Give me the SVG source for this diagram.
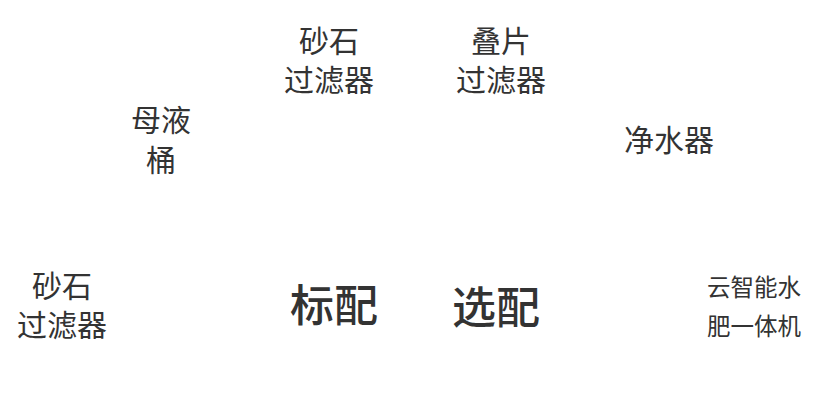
<svg xmlns="http://www.w3.org/2000/svg" width="818" height="400" viewBox="0 0 818 400">
<style>
text{font-family:"Noto Sans CJK SC","Noto Sans",sans-serif;fill:#333;text-anchor:middle;dominant-baseline:central}
.m{font-size:30px}
.b{font-size:44px;font-weight:500}
.s{font-size:23.5px}
</style>
<rect width="818" height="400" fill="#fff"/>
<g id="node-muye"><text class="m"><tspan x="161" y="118">母液</tspan><tspan x="161" y="158">桶</tspan></text></g>
<g id="node-shashi-top"><text class="m"><tspan x="329" y="39">砂石</tspan><tspan x="329" y="78">过滤器</tspan></text></g>
<g id="node-diepian"><text class="m"><tspan x="501" y="39">叠片</tspan><tspan x="501" y="78">过滤器</tspan></text></g>
<g id="node-jingshui"><text class="m" x="669" y="138">净水器</text></g>
<g id="node-shashi-left"><text class="m"><tspan x="62" y="284">砂石</tspan><tspan x="62" y="323">过滤器</tspan></text></g>
<g id="node-biaopei"><text class="b" x="334" y="303">标配</text></g>
<g id="node-xuanpei"><text class="b" x="496" y="305">选配</text></g>
<g id="node-yun"><text class="s"><tspan x="754" y="286">云智能水</tspan><tspan x="754" y="325">肥一体机</tspan></text></g>
<g id="connectors"></g>
</svg>
